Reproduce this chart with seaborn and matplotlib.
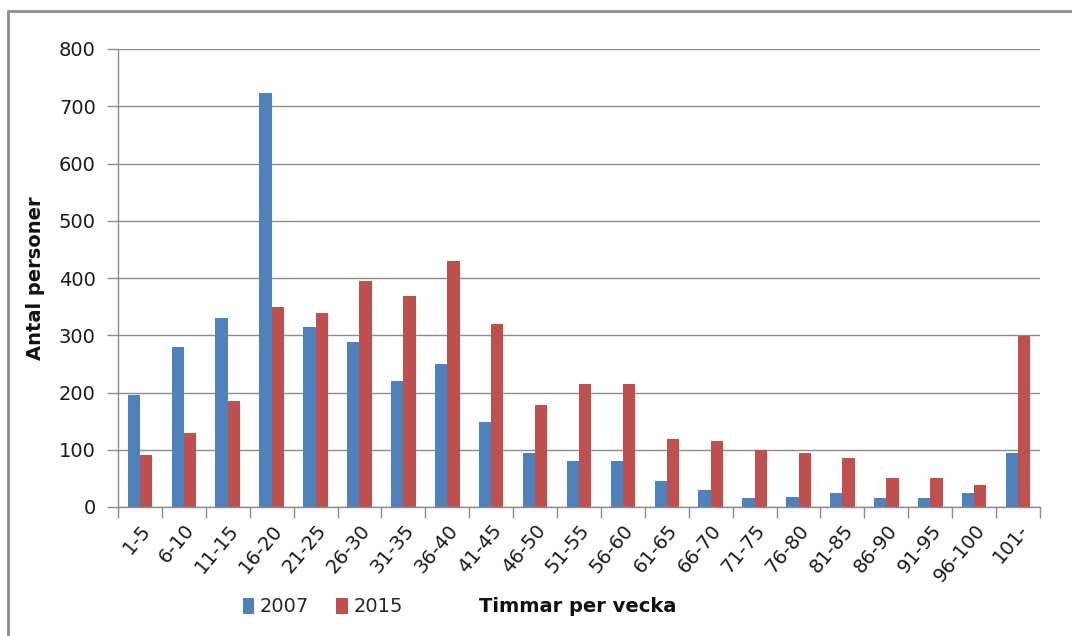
import matplotlib
matplotlib.use("Agg")
import matplotlib.pyplot as plt
import seaborn as sns
import pandas as pd
from matplotlib.lines import Line2D
from matplotlib.patches import Patch

categories = ["1-5", "6-10", "11-15", "16-20", "21-25", "26-30", "31-35", "36-40",
              "41-45", "46-50", "51-55", "56-60", "61-65", "66-70", "71-75", "76-80",
              "81-85", "86-90", "91-95", "96-100", "101-"]
values_2007 = [196, 280, 330, 724, 315, 289, 220, 250, 149, 95, 80, 80, 45, 30, 15, 17,
               24, 15, 15, 24, 95]
values_2015 = [90, 130, 185, 350, 339, 395, 369, 430, 320, 178, 214, 214, 119, 116, 100, 95,
               86, 51, 51, 39, 299]
years = ["2007", "2015"]
colors = ["#4F81BD", "#C0504D"]
y_ticks = [0, 100, 200, 300, 400, 500, 600, 700, 800]

df = pd.DataFrame({
    "cat": categories * 2,
    "val": values_2007 + values_2015,
    "year": [years[0]] * len(categories) + [years[1]] * len(categories),
})

sns.set_theme(style="white")
plt.rcParams["font.family"] = ["DejaVu Sans"]
W, H = 1072, 636
fig = plt.figure(figsize=(W / 100, H / 100), dpi=100)
ax = fig.add_axes([118 / W, 1 - 507 / H, (1040 - 118) / W, (507 - 49) / H])

sns.barplot(data=df, x="cat", y="val", hue="year", order=categories, hue_order=years,
            palette=colors, width=0.56, dodge=True, gap=0, ax=ax, legend=False,
            edgecolor="none", linewidth=0, saturation=1)

ax.set_ylim(0, 800)
ax.set_xlim(-0.5, len(categories) - 0.5)
ax.set_yticks(y_ticks)
ax.set_yticklabels([str(t) for t in y_ticks], fontsize=14, color="#1A1A1A")
ax.yaxis.grid(True, color="#8C8C8C", linewidth=1.0)
ax.set_axisbelow(True)
ax.tick_params(axis="y", length=8, width=1, color="#8C8C8C", pad=8, left=True)

ax.set_xticks(range(len(categories)))
ax.set_xticklabels(categories, rotation=50, ha="right", rotation_mode="anchor",
                   fontsize=14, color="#1A1A1A")
ax.tick_params(axis="x", which="major", length=0, pad=10)
ax.set_xticks([i + 0.5 for i in range(-1, len(categories))], minor=True)
ax.tick_params(axis="x", which="minor", length=8, width=1, color="#8C8C8C", bottom=True)

for s in ["top", "right"]:
    ax.spines[s].set_visible(False)
for s in ["left", "bottom"]:
    ax.spines[s].set_color("#8C8C8C")
    ax.spines[s].set_linewidth(1.0)

ax.set_xlabel("")
ax.set_ylabel("Antal personer", fontsize=14, fontweight="bold", labelpad=10, color="#111111")

handles = [Patch(facecolor=c, edgecolor="none") for c in colors]
fig.legend(handles, years, loc="center left", bbox_to_anchor=(225 / W, 1 - 607 / H),
           ncol=2, frameon=False, fontsize=14, handlelength=0.6, handleheight=0.9,
           handletextpad=0.3, columnspacing=1.4)
fig.text(578 / W, 1 - 607 / H, "Timmar per vecka", ha="center", va="center",
         fontsize=14, fontweight="bold", color="#111111")

fig.add_artist(Line2D([8 / W, 8 / W], [0, 1 - 11 / H], transform=fig.transFigure,
                      color="#8C8C8C", linewidth=2))
fig.add_artist(Line2D([8 / W, 1], [1 - 11 / H, 1 - 11 / H], transform=fig.transFigure,
                      color="#8C8C8C", linewidth=2))

fig.savefig("out.png", dpi=100)
